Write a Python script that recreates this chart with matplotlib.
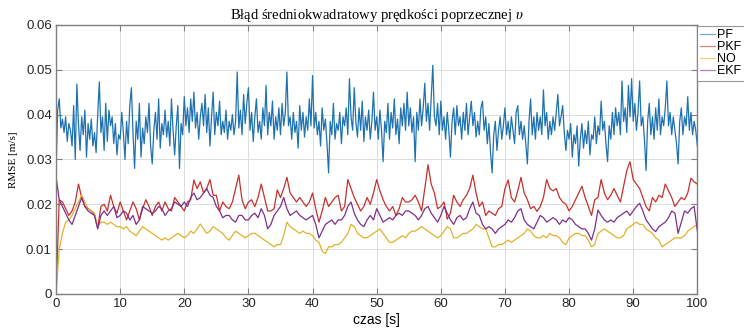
"""
RMSE of lateral velocity v for four estimators (PF, PKF, NO, EKF).
"""

import numpy as np
import matplotlib
matplotlib.use('Agg')
import matplotlib.pyplot as plt

# ---------------------------------------------------------------
# Data
# PF sampled every 0.25 s, the smoother filters every 0.5 s
# ---------------------------------------------------------------
PF = [
    0.027, 0.041, 0.0435, 0.037, 0.039, 0.036, 0.0395, 0.034, 0.038, 0.0365, 0.033, 0.042, 0.030, 0.0468, 0.038, 0.032, 0.0395, 0.0355, 0.041, 0.0305,
    0.038, 0.0345, 0.039, 0.033, 0.036, 0.0315, 0.040, 0.0473, 0.036, 0.0395, 0.032, 0.0425, 0.034, 0.041, 0.0375, 0.0395, 0.0335, 0.038, 0.031, 0.0355,
    0.0345, 0.0405, 0.036, 0.030, 0.0385, 0.0335, 0.042, 0.046, 0.036, 0.028, 0.0385, 0.0345, 0.0425, 0.0305, 0.037, 0.0335, 0.0395, 0.036, 0.0425, 0.033,
    0.029, 0.0365, 0.0405, 0.0345, 0.0435, 0.0325, 0.038, 0.0355, 0.041, 0.035, 0.0385, 0.033, 0.0435, 0.0365, 0.031, 0.0375, 0.042, 0.028, 0.038, 0.0355,
    0.044, 0.0375, 0.0415, 0.036, 0.0435, 0.0385, 0.045, 0.037, 0.0405, 0.0345, 0.0395, 0.0425, 0.0375, 0.0445, 0.036, 0.0415, 0.033, 0.0395, 0.045, 0.0355,
    0.0405, 0.0375, 0.043, 0.0355, 0.0385, 0.036, 0.041, 0.0345, 0.0385, 0.0365, 0.040, 0.0355, 0.0385, 0.0495, 0.037, 0.041, 0.0355, 0.0445, 0.038, 0.0425,
    0.046, 0.0365, 0.0405, 0.034, 0.0395, 0.0435, 0.036, 0.0385, 0.0345, 0.0415, 0.0375, 0.0465, 0.0355, 0.0405, 0.0375, 0.043, 0.0345, 0.0395, 0.0365, 0.0415,
    0.0355, 0.0425, 0.0375, 0.0405, 0.0495, 0.0375, 0.0395, 0.0345, 0.0405, 0.036, 0.0385, 0.0325, 0.042, 0.0365, 0.0405, 0.035, 0.0395, 0.0365, 0.0435, 0.0375,
    0.0487, 0.037, 0.0405, 0.0355, 0.0385, 0.033, 0.0415, 0.0365, 0.039, 0.0335, 0.027, 0.0385, 0.0355, 0.0425, 0.0345, 0.038, 0.0365, 0.0405, 0.0335, 0.0395,
    0.0375, 0.0415, 0.0355, 0.048, 0.0395, 0.0365, 0.046, 0.0385, 0.035, 0.0415, 0.0365, 0.043, 0.034, 0.0395, 0.0365, 0.041, 0.0345, 0.0385, 0.045, 0.0365,
    0.0395, 0.0345, 0.041, 0.0365, 0.0295, 0.0385, 0.036, 0.0425, 0.0345, 0.0405, 0.037, 0.0435, 0.0355, 0.039, 0.0335, 0.0415, 0.0375, 0.0425, 0.0365, 0.045,
    0.0375, 0.0415, 0.036, 0.0395, 0.0295, 0.0405, 0.0365, 0.0435, 0.0375, 0.0415, 0.047, 0.0385, 0.0425, 0.0365, 0.044, 0.051, 0.0395, 0.0375, 0.0425, 0.0355,
    0.043, 0.0365, 0.0395, 0.0345, 0.0405, 0.0365, 0.0305, 0.0385, 0.0415, 0.0355, 0.042, 0.0375, 0.0395, 0.0345, 0.0405, 0.0365, 0.0425, 0.0355, 0.0395, 0.043,
    0.0375, 0.0405, 0.035, 0.0385, 0.0355, 0.0415, 0.043, 0.0365, 0.0395, 0.0335, 0.038, 0.0315, 0.027, 0.0355, 0.0385, 0.032, 0.0365, 0.0395, 0.0345, 0.0375,
    0.0415, 0.0355, 0.0385, 0.0345, 0.0395, 0.0365, 0.0335, 0.0405, 0.042, 0.0355, 0.0385, 0.0345, 0.0375, 0.0335, 0.029, 0.0385, 0.0435, 0.0355, 0.0395, 0.0345,
    0.0405, 0.0365, 0.0395, 0.0355, 0.0455, 0.0375, 0.0405, 0.0345, 0.0385, 0.0355, 0.0395, 0.0365, 0.0405, 0.0445, 0.0375, 0.0395, 0.042, 0.036, 0.032, 0.0365,
    0.0345, 0.038, 0.0305, 0.0355, 0.0335, 0.0375, 0.0285, 0.0345, 0.038, 0.0325, 0.0365, 0.0335, 0.0385, 0.031, 0.0355, 0.0345, 0.0395, 0.0335, 0.0375, 0.0355,
    0.043, 0.0365, 0.0385, 0.0335, 0.0295, 0.0375, 0.0345, 0.0405, 0.0355, 0.0415, 0.0375, 0.0405, 0.0355, 0.0475, 0.0385, 0.0415, 0.036, 0.0465, 0.0395, 0.048,
    0.0385, 0.0425, 0.0365, 0.0405, 0.0475, 0.0375, 0.0395, 0.0345, 0.0275, 0.0385, 0.0425, 0.0355, 0.0395, 0.0345, 0.0415, 0.0365, 0.0435, 0.0355, 0.0395, 0.0375,
    0.0415, 0.0475, 0.0375, 0.0405, 0.0355, 0.0395, 0.0365, 0.0335, 0.029, 0.0385, 0.0415, 0.0355, 0.0395, 0.0375, 0.044, 0.0365, 0.0405, 0.0355, 0.0385, 0.0365,
    0.033,
]

PKF = [
    0.0, 0.021, 0.0205, 0.019, 0.0175, 0.0185, 0.0205, 0.0245, 0.0215, 0.0195, 0.019, 0.0185, 0.0175, 0.0147, 0.0195, 0.020, 0.0185, 0.022, 0.0195, 0.018,
    0.0205, 0.0185, 0.0165, 0.0185, 0.0205, 0.019, 0.0165, 0.019, 0.021, 0.0195, 0.0175, 0.0195, 0.0205, 0.0185, 0.0205, 0.019, 0.0185, 0.0215, 0.0205, 0.0195,
    0.0185, 0.0205, 0.021, 0.0254, 0.0235, 0.025, 0.0225, 0.0235, 0.0255, 0.022, 0.022, 0.0185, 0.0205, 0.0195, 0.019, 0.0205, 0.0235, 0.0265, 0.021, 0.019,
    0.0205, 0.021, 0.0195, 0.0215, 0.0245, 0.0215, 0.0185, 0.0185, 0.019, 0.0232, 0.0215, 0.0235, 0.026, 0.0225, 0.0215, 0.0205, 0.0215, 0.0205, 0.0195, 0.0205,
    0.0225, 0.019, 0.016, 0.0185, 0.0215, 0.0195, 0.0205, 0.0215, 0.022, 0.0185, 0.0195, 0.0255, 0.0235, 0.0215, 0.020, 0.0185, 0.0195, 0.0215, 0.020, 0.0225,
    0.0255, 0.023, 0.021, 0.0195, 0.0185, 0.0195, 0.0175, 0.019, 0.0215, 0.0205, 0.0205, 0.021, 0.022, 0.0205, 0.0185, 0.0235, 0.0288, 0.0245, 0.0225, 0.019,
    0.0195, 0.0205, 0.0167, 0.018, 0.022, 0.0205, 0.0195, 0.021, 0.022, 0.0235, 0.0265, 0.0225, 0.0195, 0.0205, 0.0175, 0.0185, 0.018, 0.0175, 0.019, 0.0195,
    0.0235, 0.0254, 0.0215, 0.0205, 0.023, 0.026, 0.0225, 0.021, 0.019, 0.0195, 0.0184, 0.0195, 0.0215, 0.0255, 0.0235, 0.023, 0.0235, 0.0215, 0.0205, 0.020,
    0.0185, 0.0195, 0.021, 0.0225, 0.024, 0.0215, 0.0195, 0.0175, 0.021, 0.0215, 0.0255, 0.0225, 0.021, 0.022, 0.0235, 0.022, 0.0205, 0.024, 0.0275, 0.0295,
    0.0255, 0.0245, 0.0235, 0.0215, 0.0195, 0.0185, 0.0215, 0.0205, 0.022, 0.0215, 0.0245, 0.023, 0.0215, 0.0195, 0.0205, 0.0215, 0.021, 0.0225, 0.0258, 0.025,
    0.0245,
]

NO = [
    0.0, 0.010, 0.0135, 0.016, 0.0165, 0.0175, 0.019, 0.0205, 0.022, 0.0205, 0.019, 0.0185, 0.018, 0.015, 0.016, 0.016, 0.0155, 0.016, 0.0155, 0.015,
    0.015, 0.0145, 0.015, 0.014, 0.0135, 0.013, 0.014, 0.015, 0.0145, 0.014, 0.0135, 0.013, 0.0125, 0.012, 0.0125, 0.012, 0.0125, 0.013, 0.0135, 0.013,
    0.0125, 0.013, 0.014, 0.0135, 0.0145, 0.0156, 0.0145, 0.0135, 0.014, 0.015, 0.0145, 0.014, 0.0135, 0.0125, 0.012, 0.013, 0.014, 0.0135, 0.013, 0.0125,
    0.013, 0.0135, 0.0135, 0.013, 0.0125, 0.012, 0.0115, 0.011, 0.0105, 0.011, 0.011, 0.013, 0.016, 0.015, 0.0145, 0.014, 0.0135, 0.014, 0.0135, 0.0135,
    0.013, 0.012, 0.0115, 0.0095, 0.009, 0.0105, 0.0105, 0.011, 0.011, 0.0115, 0.0125, 0.0135, 0.0155, 0.015, 0.0135, 0.013, 0.0125, 0.0125, 0.013, 0.0135,
    0.014, 0.0145, 0.0135, 0.0125, 0.0115, 0.0115, 0.012, 0.0125, 0.013, 0.0125, 0.0135, 0.014, 0.014, 0.0145, 0.015, 0.0145, 0.014, 0.0135, 0.013, 0.0125,
    0.013, 0.014, 0.015, 0.0145, 0.0125, 0.0125, 0.013, 0.0135, 0.0135, 0.014, 0.0145, 0.0155, 0.015, 0.0145, 0.0145, 0.0125, 0.0105, 0.0105, 0.011, 0.011,
    0.0115, 0.012, 0.0115, 0.012, 0.0125, 0.013, 0.0135, 0.0145, 0.014, 0.013, 0.0125, 0.0125, 0.013, 0.0125, 0.0135, 0.013, 0.013, 0.0125, 0.0115, 0.011,
    0.0125, 0.013, 0.0135, 0.0135, 0.013, 0.013, 0.012, 0.0105, 0.011, 0.0135, 0.014, 0.0145, 0.014, 0.0135, 0.013, 0.0125, 0.0125, 0.013, 0.0145, 0.015,
    0.0155, 0.016, 0.0155, 0.0155, 0.0145, 0.014, 0.0135, 0.0125, 0.012, 0.0105, 0.011, 0.0115, 0.012, 0.0125, 0.0125, 0.0125, 0.013, 0.014, 0.0145, 0.015,
    0.0155,
]

EKF = [
    0.0262, 0.021, 0.0195, 0.018, 0.0165, 0.0155, 0.0175, 0.0195, 0.0215, 0.0195, 0.0185, 0.018, 0.0175, 0.0145, 0.0175, 0.0185, 0.0175, 0.0185, 0.0195, 0.017,
    0.0175, 0.0185, 0.018, 0.0165, 0.0175, 0.0155, 0.0165, 0.0195, 0.019, 0.0185, 0.018, 0.0185, 0.0195, 0.019, 0.0175, 0.0185, 0.019, 0.0205, 0.020, 0.0195,
    0.0205, 0.0195, 0.0215, 0.0225, 0.021, 0.0215, 0.0225, 0.0235, 0.022, 0.0215, 0.0195, 0.0185, 0.017, 0.0175, 0.0175, 0.0165, 0.016, 0.0175, 0.0175, 0.0165,
    0.0165, 0.0175, 0.018, 0.017, 0.019, 0.0175, 0.0145, 0.0155, 0.0175, 0.0185, 0.0195, 0.0215, 0.019, 0.0175, 0.018, 0.0185, 0.0175, 0.017, 0.0165, 0.017,
    0.0175, 0.0155, 0.0125, 0.014, 0.0155, 0.016, 0.0165, 0.0155, 0.0165, 0.0165, 0.0175, 0.0195, 0.0205, 0.018, 0.0165, 0.0155, 0.015, 0.0165, 0.0175, 0.0165,
    0.019, 0.0175, 0.016, 0.0165, 0.017, 0.0165, 0.0175, 0.018, 0.0175, 0.0185, 0.0185, 0.018, 0.0175, 0.0165, 0.0175, 0.019, 0.0195, 0.018, 0.017, 0.016,
    0.0175, 0.0195, 0.018, 0.0165, 0.0155, 0.017, 0.0175, 0.0165, 0.017, 0.019, 0.0205, 0.018, 0.0175, 0.0155, 0.0145, 0.015, 0.0145, 0.0135, 0.0145, 0.015,
    0.0155, 0.0165, 0.016, 0.017, 0.0185, 0.019, 0.0165, 0.0155, 0.015, 0.0145, 0.016, 0.0175, 0.017, 0.016, 0.0165, 0.017, 0.0165, 0.0155, 0.0165, 0.016,
    0.017, 0.0165, 0.0155, 0.015, 0.0145, 0.0145, 0.0135, 0.012, 0.0145, 0.0187, 0.0175, 0.0165, 0.016, 0.0165, 0.016, 0.017, 0.0175, 0.018, 0.0185, 0.0175,
    0.0185, 0.0195, 0.0202, 0.0185, 0.0165, 0.0155, 0.0145, 0.0139, 0.015, 0.0155, 0.016, 0.017, 0.0185, 0.018, 0.0135, 0.016, 0.0185, 0.018, 0.019, 0.0195,
    0.014,
]

SERIES = [('PF', PF, '#1f72b0'), ('PKF', PKF, '#c8302c'),
          ('NO', NO, '#e3b12a'), ('EKF', EKF, '#7e2f8e')]

T_END = 100.0

plt.rcParams['mathtext.fontset'] = 'stix'

fig = plt.figure(figsize=(7.44, 3.28), dpi=100)
ax = fig.add_axes([0.0753, 0.104, 0.862, 0.820])

for name, vals, color in SERIES:
    t = np.linspace(0, T_END, len(vals))
    ax.plot(t, vals, color=color, lw=0.9, label=name)

ax.set_xlim(0, 100)
ax.set_ylim(0, 0.06)
ax.set_xticks(np.arange(0, 101, 10))
ax.set_yticks([0, 0.01, 0.02, 0.03, 0.04, 0.05, 0.06])
ax.set_yticklabels(['0', '0.01', '0.02', '0.03', '0.04', '0.05', '0.06'])

ax.grid(True, color='#dcdcdc', lw=0.7)
ax.set_axisbelow(True)
for sp in ax.spines.values():
    sp.set_color('#808080')
    sp.set_linewidth(1.0)
ax.tick_params(direction='in', top=True, right=True, length=4, width=0.8,
               color='#808080', labelsize=9.5, labelcolor='#262626', pad=3)
for lbl in ax.get_xticklabels() + ax.get_yticklabels():
    lbl.set_family('Liberation Sans')

ax.set_title('Błąd średniokwadratowy prędkości poprzecznej $\\upsilon$',
             family='Liberation Serif', fontsize=10.5, pad=4)
ax.set_ylabel('RMSE [m/s]', family='Liberation Serif', fontsize=8, labelpad=6)
ax.set_xlabel('czas [s]', family='Liberation Sans', fontsize=10, labelpad=2)

# legend sits just right of the axes, like the MATLAB original
leg = ax.legend(loc='upper left', bbox_to_anchor=(1.0, 0.995), borderaxespad=0,
                frameon=True, fancybox=False, handlelength=1.2, handletextpad=0.15,
                labelspacing=0.0, borderpad=0.25,
                prop={'family': 'Liberation Sans', 'size': 9})
leg.get_frame().set_edgecolor('#808080')
leg.get_frame().set_linewidth(0.8)
for line in leg.get_lines():
    line.set_alpha(0.6)

fig.savefig('out.png', dpi=100)
plt.close(fig)
